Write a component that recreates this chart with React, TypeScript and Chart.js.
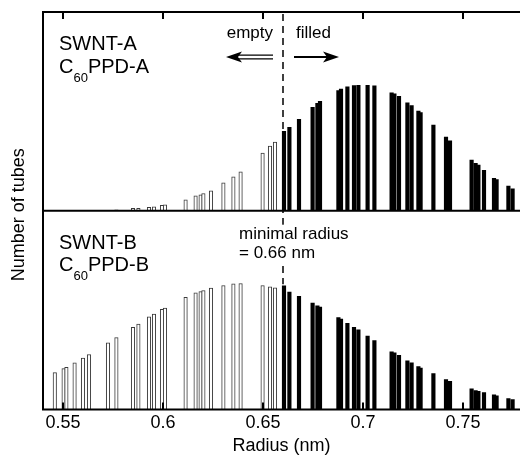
import { useEffect, useRef } from "react";
import { Chart, registerables } from "chart.js";

Chart.register(...registerables);

// Tube radii (nm) of the chiralities shown as bars
const radii = [
  0.5459, 0.5503, 0.5517, 0.5558, 0.56, 0.563, 0.5725, 0.5767, 0.585, 0.5877,
  0.593, 0.5955, 0.5995, 0.601, 0.6113, 0.6163, 0.6188, 0.6202, 0.624, 0.6302,
  0.6352, 0.6388, 0.6498, 0.6535, 0.656, 0.6605, 0.6632, 0.668, 0.6748, 0.6772,
  0.6785, 0.6877, 0.689, 0.6922, 0.6955, 0.6977, 0.7023, 0.7057, 0.7143, 0.7157,
  0.718, 0.7222, 0.7243, 0.7277, 0.7288, 0.7352, 0.7415, 0.7435, 0.7543, 0.7563,
  0.7577, 0.7605, 0.7655, 0.7668, 0.7727, 0.7748,
];

// Number of tubes (arbitrary units), sample SWNT-A / C60PPD-A
const tubesA = [
  0, 0, 0, 0, 0, 0, 0, 1, 2.5, 2.5,
  3.5, 4, 5.5, 6, 11, 15, 16, 17.3, 20, 28,
  34, 39, 58, 65, 69, 80, 84, 92, 104, 108,
  110, 121, 122.5, 124.7, 126, 126.3, 126.3, 125.7, 118.7, 117.7,
  115, 108.7, 105.7, 100.3, 98.7, 86.3, 74, 70.3, 51, 47.7,
  46, 40.7, 32.7, 31.3, 24.7, 22,
];

// Number of tubes (arbitrary units), sample SWNT-B / C60PPD-B
const tubesB = [
  37, 41, 42.3, 47, 51.7, 55.3, 67, 72.3, 82.7, 86,
  93.3, 96, 100.7, 102, 112.7, 117.3, 118.5, 119.7, 122, 124.7,
  126.3, 126.7, 124.7, 123.3, 122.3, 124.5, 118, 113.7, 107, 104.3,
  103, 92.3, 91, 86.7, 82.7, 80, 73.7, 69.3, 58, 57,
  54.3, 49, 47, 43, 41.7, 36, 30, 28.3, 20.7, 19,
  18.3, 17, 14.7, 13.7, 11, 10,
];

const xTicks = [0.55, 0.6, 0.65, 0.7, 0.75];
const MIN_RADIUS = 0.66;
const X_MIN = 0.54;
const X_MAX = 0.7785;
const Y_MAX = 200;

const FONT = "'Liberation Sans', Arial, Helvetica, sans-serif";

function pts(values: number[], filled: boolean) {
  const out: { x: number; y: number }[] = [];
  radii.forEach((r, i) => {
    const isFilled = r >= MIN_RADIUS;
    if (isFilled === filled && values[i] > 0) out.push({ x: r, y: values[i] });
  });
  return out;
}

const decorPlugin = {
  id: "decor",
  afterDatasetsDraw(chart: any) {
    const ctx: CanvasRenderingContext2D = chart.ctx;
    const xs = chart.scales.x;
    const yA = chart.scales.yA;
    const yB = chart.scales.yB;
    const area = chart.chartArea;
    const L = area.left;
    const R = area.right;
    const T = area.top;
    const B = area.bottom;
    const mid = yA.getPixelForValue(0);
    ctx.save();

    // frame
    ctx.strokeStyle = "#000";
    ctx.lineWidth = 2;
    ctx.beginPath();
    ctx.moveTo(R + 2, T);
    ctx.lineTo(L, T);
    ctx.lineTo(L, B);
    ctx.lineTo(R + 2, B);
    ctx.moveTo(L, mid);
    ctx.lineTo(R + 2, mid);
    ctx.stroke();

    // inward ticks on top and bottom
    ctx.lineWidth = 2;
    ctx.beginPath();
    for (const v of xTicks) {
      const px = Math.round(xs.getPixelForValue(v));
      ctx.moveTo(px, B);
      ctx.lineTo(px, B - 7);
      ctx.moveTo(px, T);
      ctx.lineTo(px, T + 7);
    }
    ctx.stroke();

    // dashed minimal radius line
    const xd = xs.getPixelForValue(MIN_RADIUS);
    ctx.lineWidth = 1.5;
    ctx.setLineDash([7, 5]);
    ctx.beginPath();
    ctx.moveTo(xd, T + 2);
    ctx.lineTo(xd, yB.getPixelForValue(126));
    ctx.stroke();
    ctx.setLineDash([]);

    ctx.fillStyle = "#000";
    ctx.textBaseline = "alphabetic";

    // sample labels
    const drawLabel = (top: string, suffix: string, y1: number) => {
      ctx.font = `20px ${FONT}`;
      ctx.textAlign = "left";
      ctx.fillText(top, L + 16, y1);
      const y2 = y1 + 22.5;
      ctx.fillText("C", L + 16, y2);
      const cw = ctx.measureText("C").width;
      ctx.font = `13px ${FONT}`;
      ctx.fillText("60", L + 16 + cw, y2 + 9);
      const sw = ctx.measureText("60").width;
      ctx.font = `20px ${FONT}`;
      ctx.fillText(suffix, L + 16 + cw + sw, y2);
    };
    drawLabel("SWNT-A", "PPD-A", T + 38);
    drawLabel("SWNT-B", "PPD-B", mid + 38);

    // empty / filled
    ctx.font = `17px ${FONT}`;
    ctx.textAlign = "right";
    ctx.fillText("empty", xd - 10, T + 25.5);
    ctx.textAlign = "left";
    ctx.fillText("filled", xd + 13, T + 25.5);

    const ay = T + 45;
    // double arrow to the left
    ctx.lineWidth = 1.3;
    ctx.beginPath();
    ctx.moveTo(xd - 47, ay - 1.8);
    ctx.lineTo(xd - 10, ay - 1.8);
    ctx.moveTo(xd - 47, ay + 1.8);
    ctx.lineTo(xd - 10, ay + 1.8);
    ctx.stroke();
    ctx.beginPath();
    ctx.moveTo(xd - 57, ay);
    ctx.lineTo(xd - 41, ay - 5.5);
    ctx.lineTo(xd - 45, ay);
    ctx.lineTo(xd - 41, ay + 5.5);
    ctx.closePath();
    ctx.fill();

    // solid arrow to the right
    ctx.lineWidth = 2;
    ctx.beginPath();
    ctx.moveTo(xd + 11, ay);
    ctx.lineTo(xd + 46, ay);
    ctx.stroke();
    ctx.beginPath();
    ctx.moveTo(xd + 56, ay);
    ctx.lineTo(xd + 40, ay - 5.5);
    ctx.lineTo(xd + 44, ay);
    ctx.lineTo(xd + 40, ay + 5.5);
    ctx.closePath();
    ctx.fill();

    // minimal radius note
    ctx.font = `17px ${FONT}`;
    ctx.textAlign = "left";
    const nx = xd - 44;
    const w = Math.max(ctx.measureText("minimal radius").width, ctx.measureText("= 0.66 nm").width);
    ctx.fillStyle = "#fff";
    ctx.fillRect(nx - 2, mid + 14, w + 4, 40);
    ctx.fillStyle = "#000";
    ctx.fillText("minimal radius", nx, mid + 28);
    ctx.fillText("= 0.66 nm", nx, mid + 47);

    // y title
    ctx.save();
    ctx.translate(19, (T + B) / 2 + 4);
    ctx.rotate(-Math.PI / 2);
    ctx.textAlign = "center";
    ctx.textBaseline = "middle";
    ctx.font = `18px ${FONT}`;
    ctx.fillText("Number of tubes", 0, 0);
    ctx.restore();

    ctx.restore();
  },
};

export default function App() {
  const ref = useRef<HTMLCanvasElement | null>(null);

  useEffect(() => {
    if (!ref.current) return;
    Chart.defaults.font.family = FONT;
    const openStyle = {
      backgroundColor: "#ffffff",
      borderColor: "#3a3a3a",
      borderWidth: 1,
      barThickness: 3.5,
      grouped: false,
    };
    const fillStyle = {
      backgroundColor: "#000000",
      borderColor: "#000000",
      borderWidth: 0,
      barThickness: 3.5,
      grouped: false,
    };
    const chart = new Chart(ref.current, {
      type: "bar",
      data: {
        datasets: [
          { label: "B empty", data: pts(tubesB, false), yAxisID: "yB", ...openStyle },
          { label: "B filled", data: pts(tubesB, true), yAxisID: "yB", ...fillStyle },
          { label: "A empty", data: pts(tubesA, false), yAxisID: "yA", ...openStyle },
          { label: "A filled", data: pts(tubesA, true), yAxisID: "yA", ...fillStyle },
        ] as any,
      },
      options: {
        responsive: false,
        animation: false,
        layout: { padding: { left: 43, right: 0, top: 12, bottom: 7 } },
        plugins: { legend: { display: false }, tooltip: { enabled: false } },
        scales: {
          x: {
            type: "linear",
            position: "bottom",
            min: X_MIN,
            max: X_MAX,
            offset: false,
            afterBuildTicks: (s: any) => {
              s.ticks = xTicks.map((v) => ({ value: v }));
            },
            ticks: {
              color: "#000",
              font: { size: 18, family: FONT, lineHeight: 1.2 },
              padding: 3,
              maxRotation: 0,
              autoSkip: false,
              callback: (v: any) => String(v),
            },
            grid: { display: false, drawTicks: false },
            border: { display: false },
            title: {
              display: true,
              text: "Radius (nm)",
              color: "#000",
              font: { size: 18, family: FONT, lineHeight: 1 },
              padding: { top: 0, bottom: 0 },
            },
          },
          yB: {
            type: "linear",
            position: "left",
            stack: "panels",
            stackWeight: 1,
            min: 0,
            max: Y_MAX,
            ticks: { display: false },
            grid: { display: false, drawTicks: false },
            border: { display: false },
          },
          yA: {
            type: "linear",
            position: "left",
            stack: "panels",
            stackWeight: 1,
            min: 0,
            max: Y_MAX,
            ticks: { display: false },
            grid: { display: false, drawTicks: false },
            border: { display: false },
          },
        } as any,
      },
      plugins: [decorPlugin],
    });
    return () => chart.destroy();
  }, []);

  return (
    <div style={{ position: "fixed", left: 0, top: 0, width: 520, height: 462, background: "#fff" }}>
      <canvas ref={ref} width={520} height={462} style={{ display: "block" }} />
    </div>
  );
}
